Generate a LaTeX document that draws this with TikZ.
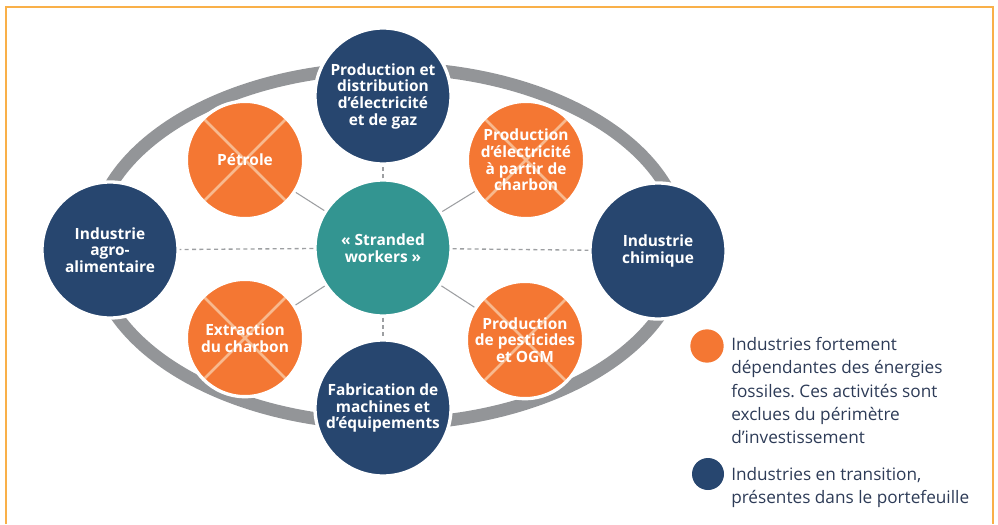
\documentclass[tikz,border=0pt]{standalone}
\usepackage{fontspec}
\setmainfont{Open Sans}
\frenchspacing
\definecolor{navy}{HTML}{27466F}
\definecolor{fossil}{HTML}{F47733}
\definecolor{stranded}{HTML}{339591}
\definecolor{ringgray}{HTML}{939598}
\definecolor{linkgray}{HTML}{9D9FA2}
\definecolor{crossc}{HTML}{F8B98E}
\definecolor{framec}{HTML}{F9B049}
\definecolor{legtext}{HTML}{2D3B57}

\begin{document}
\begin{tikzpicture}[x=0.75pt, y=-0.75pt,
	bigc/.style={circle, fill=navy, draw=white, line width=2.5pt, minimum size=102pt, inner sep=0pt, text=white, align=center, font=\bfseries\fontsize{11.6}{12.5}\selectfont},
	fossilc/.style={bigc, fill=fossil, minimum size=88pt, path picture={\draw[crossc, line width=2pt] (path picture bounding box.north west) -- (path picture bounding box.south east) (path picture bounding box.north east) -- (path picture bounding box.south west);}},
	dashlink/.style={linkgray, line width=1pt, dash pattern=on 3pt off 2.5pt},
	link/.style={linkgray, line width=0.8pt},
	legend/.style={inner sep=0pt, align=left, text=legtext, font=\fontsize{12.9}{17.5}\selectfont}]
\useasboundingbox (0,0) rectangle (998,524);
\draw [framec, line width=1.2pt] (6,524) -- (6,7) -- (993,7) -- (993,524);
\draw [ringgray, line width=9.5pt] (388,246) ellipse [x radius=295, y radius=178];
\node [bigc] (elec) at (383,96) {Production et\\distribution\\d’électricité\\et de gaz};
\node [bigc] (agro) at (110,250) {Industrie\\agro-\\alimentaire};
\node [bigc] (chimie) at (658,251) {Industrie\\chimique};
\node [bigc] (machines) at (383,408) {Fabrication de\\machines et\\d’équipements};
\node [bigc, fill=stranded] (workers) at (383,248) {«~Stranded\\workers~»};
\node [fossilc] (petrole) at (245,160) {Pétrole};
\node [fossilc] (charbonelec) at (526,160) {Production\\d’électricité\\à partir de\\charbon};
\node [fossilc] (extraction) at (245,338) {Extraction\\du charbon};
\node [fossilc] (pesticides) at (525,340) {Production\\de pesticides\\et OGM};
\foreach \n in {agro,chimie,elec,machines}
	\draw [dashlink] (workers) -- (\n);
\foreach \n in {petrole,charbonelec,extraction,pesticides}
	\draw [link] (workers) -- (\n);
\node [circle, fill=fossil, minimum size=25pt, inner sep=0pt] (lfossil) at (707,346) {};
\node [circle, fill=navy, minimum size=24pt, inner sep=0pt] (lnavy) at (708,474) {};
\node [legend, anchor=north west] (lfossiltext) at (731,337) {Industries fortement\\dépendantes des énergies\\fossiles. Ces activités sont\\exclues du périmètre\\d’investissement};
\node [legend, anchor=north west] (lnavytext) at (731,467) {Industries en transition,\\présentes dans le portefeuille};
\end{tikzpicture}
\end{document}
